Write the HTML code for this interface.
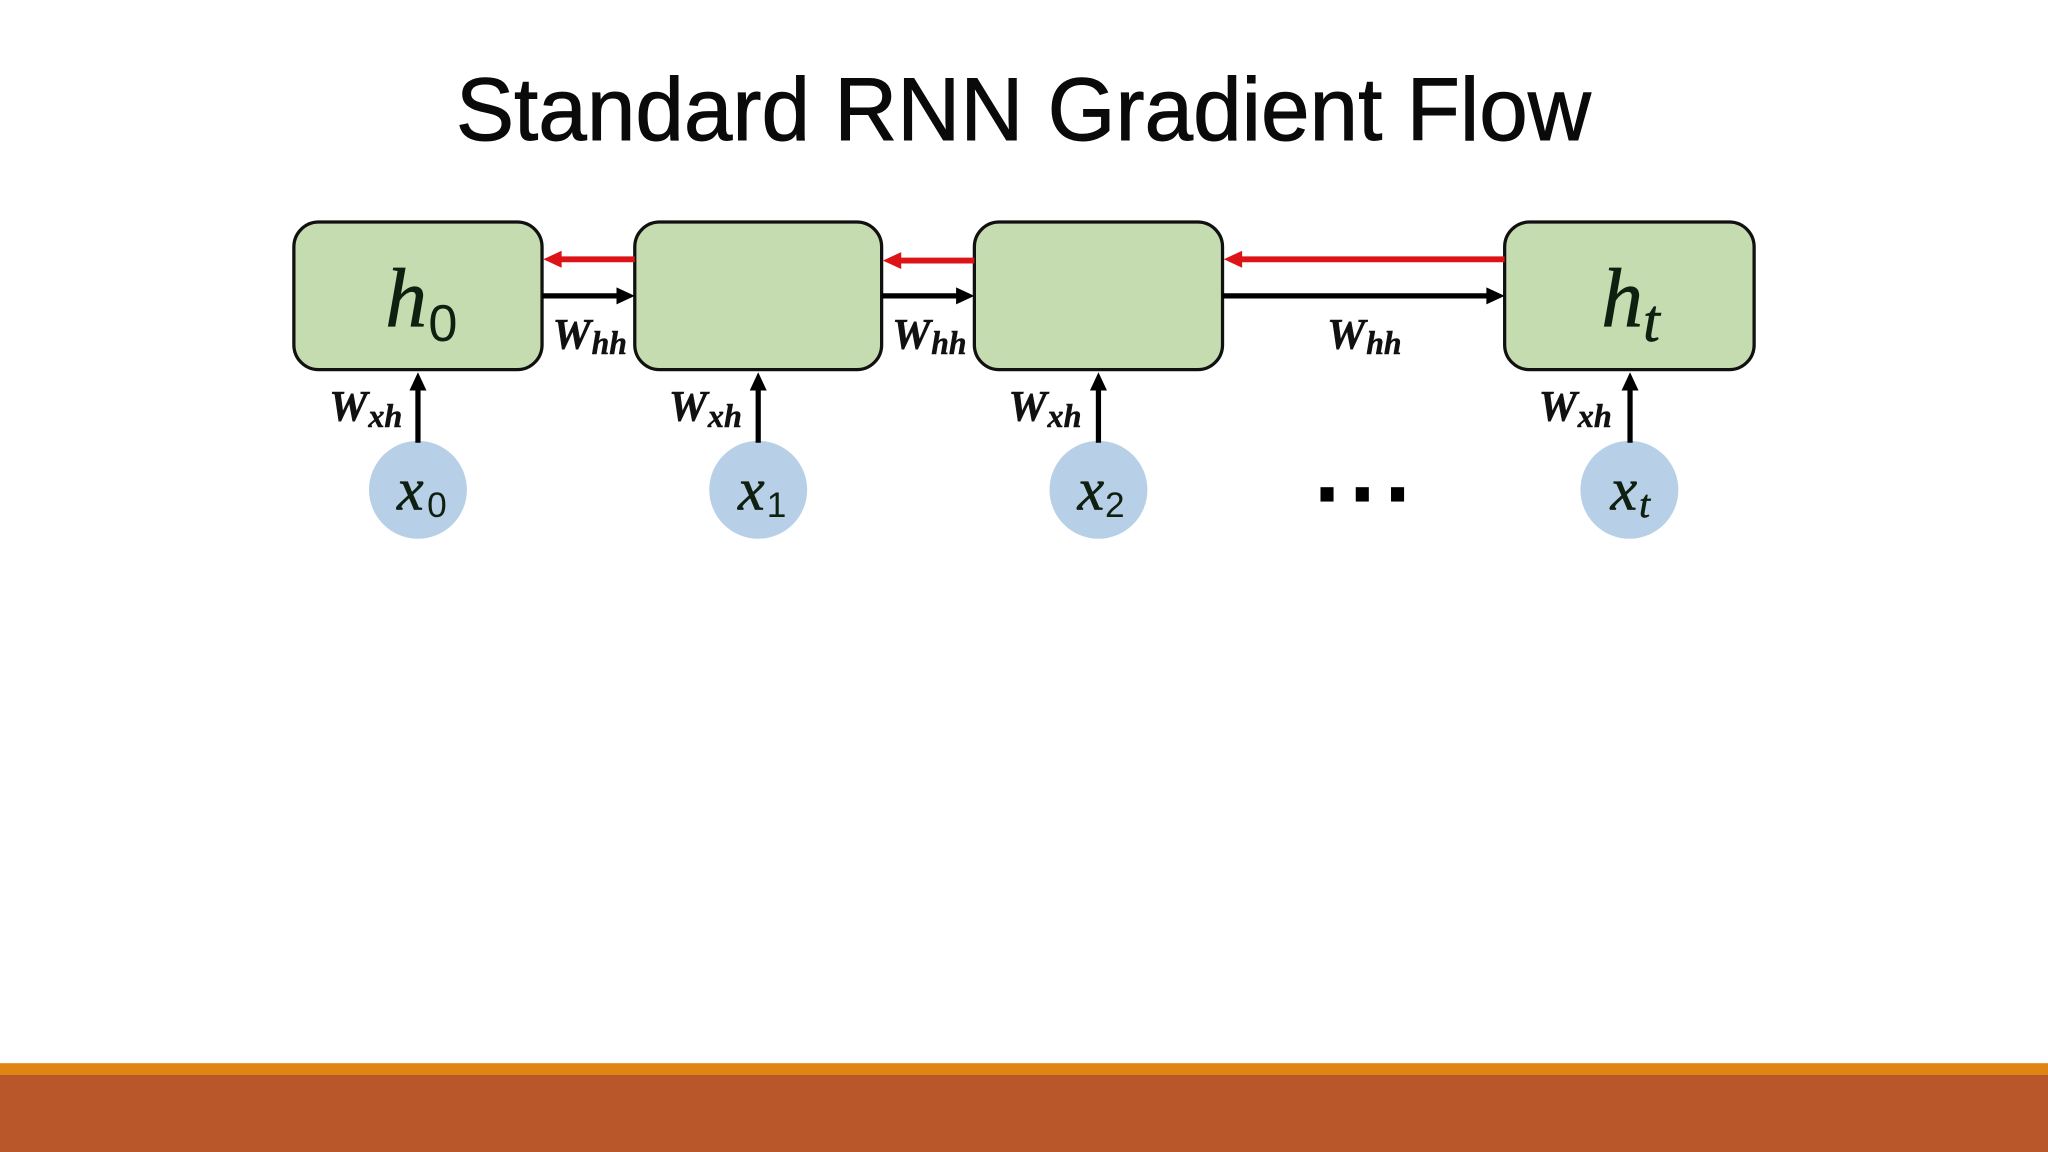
<!DOCTYPE html>
<html><head><meta charset="utf-8"><title>Standard RNN Gradient Flow</title>
<style>
html,body{margin:0;padding:0;background:#fff;width:2048px;height:1152px;overflow:hidden}
svg{display:block}
.t{font-family:"Liberation Sans",sans-serif;fill:#0a0a0a;stroke:#0a0a0a;stroke-width:.7}
.m{font-family:"Liberation Serif",serif;font-style:italic;fill:#0f1f10;stroke:#0f1f10;stroke-width:.5}
.s{font-family:"Liberation Sans",sans-serif;fill:#0f1f10}
.w{font-family:"Liberation Serif",serif;font-style:italic;font-weight:bold;fill:#111;stroke:#111;stroke-width:.4}
</style></head><body>
<svg width="2048" height="1152" viewBox="0 0 1568 882" xmlns="http://www.w3.org/2000/svg">
<rect width="1568" height="882" fill="#fff"/>
<rect x="0" y="814" width="1568" height="9" fill="#e08412"/>
<rect x="0" y="823" width="1568" height="59" fill="#b9572a"/>
<text class="t" x="349" y="107" font-size="68" textLength="869" lengthAdjust="spacingAndGlyphs">Standard RNN Gradient Flow</text>
<g fill="#c5dcb0" stroke="#111" stroke-width="2.5">
<rect x="225" y="170" width="190" height="113" rx="19"/>
<rect x="486" y="170" width="189" height="113" rx="19"/>
<rect x="746" y="170" width="190" height="113" rx="19"/>
<rect x="1152" y="170" width="191" height="113" rx="19"/>
</g>
<g fill="#b7d0e8">
<circle cx="320" cy="375" r="37.5"/><circle cx="580.5" cy="375" r="37.5"/>
<circle cx="841" cy="375" r="37.5"/><circle cx="1247.5" cy="375" r="37.5"/>
</g>
<g stroke="#dc1418" stroke-width="4.5">
<line x1="428" y1="198.500" x2="486" y2="198.500"/>
<line x1="688" y1="199.500" x2="746" y2="199.500"/>
<line x1="949" y1="198.500" x2="1152" y2="198.500"/>
</g>
<g fill="#dc1418">
<polygon points="416,198.500 430,192 430,205"/>
<polygon points="676,199.500 690,193 690,206"/>
<polygon points="937,198.500 951,192 951,205"/>
</g>
<g stroke="#000" stroke-width="4">
<line x1="415" y1="226.500" x2="474" y2="226.500"/>
<line x1="675" y1="226.500" x2="734" y2="226.500"/>
<line x1="936" y1="226.500" x2="1140" y2="226.500"/>
<line x1="320" y1="339" x2="320" y2="297"/>
<line x1="580.500" y1="339" x2="580.500" y2="297"/>
<line x1="841" y1="339" x2="841" y2="297"/>
<line x1="1248" y1="339" x2="1248" y2="297"/>
</g>
<g fill="#000">
<polygon points="486,226.500 472,220 472,233"/>
<polygon points="746,226.500 732,220 732,233"/>
<polygon points="1152,226.500 1138,220 1138,233"/>
<polygon points="320,285 313.500,299 326.500,299"/>
<polygon points="580.500,285 574,299 587,299"/>
<polygon points="841,285 834.500,299 847.500,299"/>
<polygon points="1248,285 1241.500,299 1254.500,299"/>
<rect x="1011" y="373" width="10" height="11"/>
<rect x="1038" y="373" width="10" height="11"/>
<rect x="1065" y="373" width="10" height="11"/>
</g>
<text class="m" x="295" y="250" font-size="64">h</text><text class="s" x="328" y="261" font-size="40">0</text>
<text class="m" x="1226" y="250" font-size="64">h</text><text class="m" x="1258" y="261" font-size="46">t</text>
<text class="m" x="304" y="390" font-size="46">x</text><text class="s" x="327" y="396" font-size="27">0</text>
<text class="m" x="565" y="390" font-size="46">x</text><text class="s" x="587" y="396" font-size="27">1</text>
<text class="m" x="825" y="390" font-size="46">x</text><text class="s" x="846" y="396" font-size="27">2</text>
<text class="m" x="1233" y="390" font-size="46">x</text><text class="m" x="1255" y="396" font-size="30">t</text>
<g>
<text class="w" x="423" y="267" font-size="33">W</text><text class="w" x="453" y="271" font-size="25" textLength="27" lengthAdjust="spacingAndGlyphs">hh</text>
<text class="w" x="683" y="267" font-size="33">W</text><text class="w" x="713" y="271" font-size="25" textLength="27" lengthAdjust="spacingAndGlyphs">hh</text>
<text class="w" x="1016" y="267" font-size="33">W</text><text class="w" x="1046" y="271" font-size="25" textLength="27" lengthAdjust="spacingAndGlyphs">hh</text>
<text class="w" x="252" y="322" font-size="33">W</text><text class="w" x="282" y="327" font-size="25" textLength="26" lengthAdjust="spacingAndGlyphs">xh</text>
<text class="w" x="512" y="322" font-size="33">W</text><text class="w" x="542" y="327" font-size="25" textLength="26" lengthAdjust="spacingAndGlyphs">xh</text>
<text class="w" x="772" y="322" font-size="33">W</text><text class="w" x="802" y="327" font-size="25" textLength="26" lengthAdjust="spacingAndGlyphs">xh</text>
<text class="w" x="1178" y="322" font-size="33">W</text><text class="w" x="1208" y="327" font-size="25" textLength="26" lengthAdjust="spacingAndGlyphs">xh</text>
</g>
</svg>
</body></html>
